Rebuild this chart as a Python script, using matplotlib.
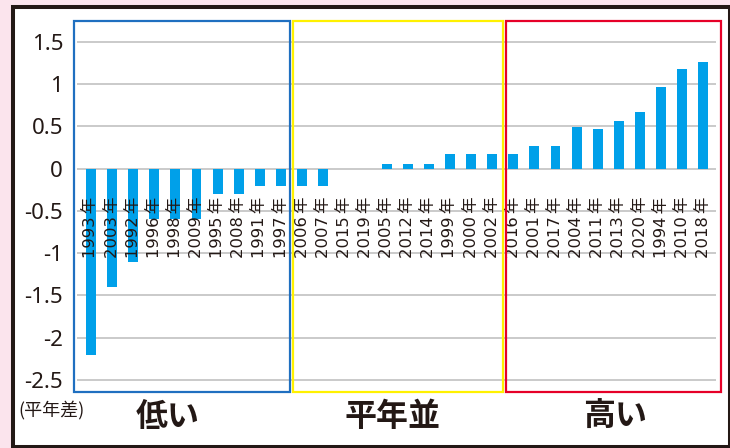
import matplotlib
matplotlib.use("Agg")
import matplotlib.pyplot as plt
from matplotlib.patches import Rectangle
import matplotlib.transforms as mtransforms

# years sorted by anomaly (平年差), three groups of ten
years = [1993, 2003, 1992, 1996, 1998, 2009, 1995, 2008, 1991, 1997,
         2006, 2007, 2015, 2019, 2005, 2012, 2014, 1999, 2000, 2002,
         2016, 2001, 2017, 2004, 2011, 2013, 2020, 1994, 2010, 2018]
anomaly = [-2.2, -1.4, -1.1, -0.6, -0.6, -0.6, -0.3, -0.3, -0.2, -0.2,
           -0.2, -0.2, 0.0, 0.0, 0.06, 0.06, 0.06, 0.18, 0.18, 0.18,
           0.18, 0.27, 0.27, 0.49, 0.47, 0.57, 0.67, 0.97, 1.18, 1.26]
group_names = ["低い", "平年並", "高い"]
group_start = [0, 10, 20]
group_end = [9, 19, 29]
yticks = [1.5, 1, 0.5, 0, -0.5, -1, -1.5, -2, -2.5]
ytick_labels = ["1.5", "1", "0.5", "0", "-0.5", "-1", "-1.5", "-2", "-2.5"]

dark = "#231815"
box_colors = ["#1f6fc0", "#fff100", "#e60028"]
pad_left = [0.81, 0.43, 0.33]
pad_right = [0.43, 0.53, 0.86]
name_shift = [-0.85, -0.2, 0.33]

W, H = 730, 448
fig = plt.figure(figsize=(W / 100, H / 100), dpi=100)
fig.patch.set_facecolor("#fbe4ed")

# white panel with dark frame
fig.patches.append(Rectangle((13 / W, 1.5 / H), (729.5 - 13) / W, (441 - 1.5) / H,
                             transform=fig.transFigure, facecolor="white",
                             edgecolor="#231815", lw=2.9, zorder=-10))

ax = fig.add_axes([77 / W, (H - 392) / H, (716 - 77) / W, (392 - 21) / H])
ax.set_facecolor("none")
x = list(range(len(years)))
ax.bar(x, anomaly, width=0.47, color="#00a0e9", zorder=2)

ax.set_xlim(-0.66, 29.6)
ax.set_ylim(-2.642, 1.748)
ax.set_yticks(yticks)
ax.set_yticklabels(ytick_labels, fontsize=16, color=dark, family="Noto Sans")
ax.tick_params(axis="y", length=0, pad=10)
ax.set_xticks([])
ax.yaxis.grid(True, color="#c6c6c6", lw=1.3, zorder=0)
ax.set_axisbelow(True)
for s in ax.spines.values():
    s.set_visible(False)

for i, yr in enumerate(years):
    ax.text(i, -0.33, f"{yr}\u2009年", rotation=90, ha="center", va="top",
            fontsize=11.8, color=dark, family=["DejaVu Sans", "Noto Sans CJK JP"], zorder=3)

trans = mtransforms.blended_transform_factory(ax.transData, ax.transAxes)
for k in range(3):
    left = group_start[k] - pad_left[k]
    right = group_end[k] + pad_right[k]
    ax.add_patch(Rectangle((left, 0), right - left, 1, transform=trans, fill=False,
                           edgecolor=box_colors[k], lw=1.6, clip_on=False, zorder=4))
    cx = (group_start[k] + group_end[k]) / 2 + name_shift[k]
    ax.text(cx, -0.0674, group_names[k], transform=trans, ha="center", va="center",
            fontsize=23, fontweight="bold", color=dark, family="Noto Sans CJK JP")

fig.text(18 / W, (H - 410) / H, "(平年差)", ha="left", va="center", fontsize=13,
         color=dark, family="Noto Sans CJK JP")

fig.savefig("out.png", dpi=100, facecolor=fig.get_facecolor())
